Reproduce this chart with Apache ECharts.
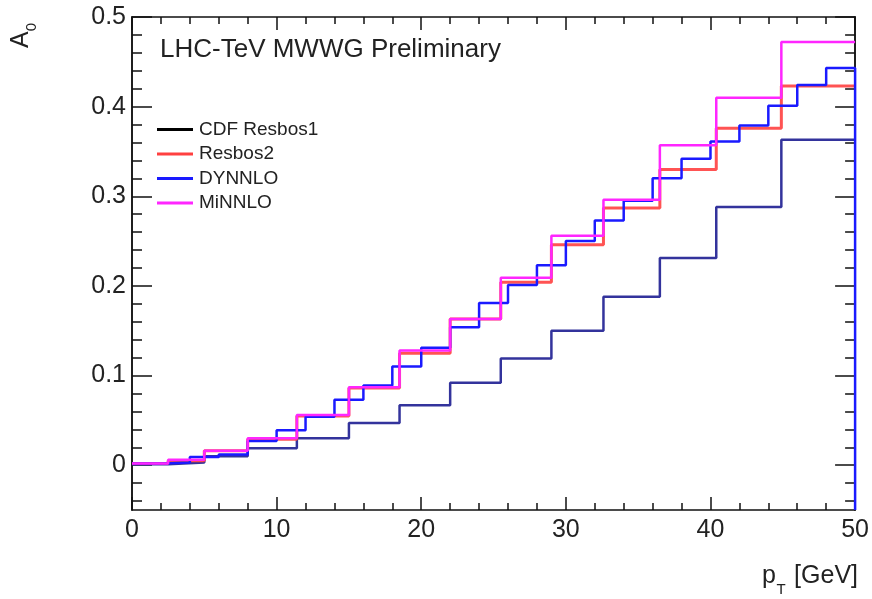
<!DOCTYPE html>
<html>
<head>
<meta charset="utf-8">
<script src="https://cdn.jsdelivr.net/npm/echarts@6/dist/echarts.min.js"></script>
<style>
html,body{margin:0;padding:0;background:#fff;}
#chart{width:872px;height:599px;}
</style>
</head>
<body>
<div id="chart"></div>
<script>
// ---- data ----
const seriesNames = ['CDF Resbos1', 'Resbos2', 'DYNNLO', 'MiNNLO'];
const edgesCoarse = [0, 2.5, 5, 8, 11.4, 15, 18.5, 22, 25.5, 29, 32.6, 36.5, 40.4, 44.9, 50];
const edgesFine = [0, 2, 4, 6, 8, 10, 12, 14, 16, 18, 20, 22, 24, 26, 28, 30, 32, 34, 36, 38, 40, 42, 44, 46, 48, 50];
const resbos1 = [0.001, 0.003, 0.010, 0.019, 0.030, 0.047, 0.067, 0.092, 0.119, 0.150, 0.188, 0.231, 0.288, 0.363];
const resbos2 = [0.002, 0.005, 0.016, 0.029, 0.055, 0.086, 0.125, 0.163, 0.204, 0.246, 0.287, 0.330, 0.376, 0.423];
const minnlo  = [0.002, 0.006, 0.016, 0.030, 0.056, 0.087, 0.128, 0.163, 0.209, 0.256, 0.296, 0.357, 0.410, 0.472];
const dynnlo  = [0.002, 0.003, 0.009, 0.012, 0.027, 0.039, 0.054, 0.073, 0.089, 0.110, 0.131, 0.154, 0.181,
                 0.201, 0.223, 0.250, 0.273, 0.295, 0.320, 0.342, 0.361, 0.379, 0.401, 0.424, 0.443];
const xMin = 0, xMax = 50, xInterval = 10;
const yMin = -0.05, yMax = 0.5;
const yMajorTicks = [0, 0.1, 0.2, 0.3, 0.4, 0.5];
const yMinorTicks = [-0.04, -0.02, 0.02, 0.04, 0.06, 0.08, 0.12, 0.14, 0.16, 0.18, 0.22, 0.24, 0.26, 0.28,
                     0.32, 0.34, 0.36, 0.38, 0.42, 0.44, 0.46, 0.48];
const titleText = 'LHC-TeV MWWG Preliminary';

// ---- helpers ----
function histPoints(edges, values) {
  const pts = values.map((v, i) => [edges[i], v]);
  pts.push([edges[edges.length - 1], values[values.length - 1]]);
  return pts;
}
const dynPts = histPoints(edgesFine, dynnlo);
dynPts.push([edgesFine[edgesFine.length - 1], yMin]); // outline closes down to frame

const FONT = '"Liberation Sans", Arial, Helvetica, sans-serif';
const frameColor = '#111';

function yAx(pos, ticks, len, labels) {
  return {
    type: 'value', position: pos, min: yMin, max: yMax,
    axisLine: { show: true, onZero: false, lineStyle: { color: frameColor, width: 1.5 } },
    axisTick: { show: true, inside: true, length: len, customValues: ticks, lineStyle: { color: frameColor, width: 1.5 } },
    axisLabel: labels ? {
      show: true, customValues: ticks, margin: 6, fontSize: 25, fontFamily: FONT, color: '#222',
      formatter: v => (Math.abs(v) < 1e-9 ? '0' : v.toFixed(1))
    } : { show: false },
    splitLine: { show: false }
  };
}
function xAx(pos, labels) {
  return {
    type: 'value', position: pos, min: xMin, max: xMax, interval: xInterval,
    axisLine: { show: true, onZero: false, lineStyle: { color: frameColor, width: 1.5 } },
    axisTick: { show: true, inside: true, length: 13, lineStyle: { color: frameColor, width: 1.5 } },
    minorTick: { show: true, splitNumber: 5, length: 7, lineStyle: { color: frameColor, width: 1.5 } },
    axisLabel: labels ? { show: true, margin: 8, fontSize: 25, fontFamily: FONT, color: '#222' } : { show: false },
    splitLine: { show: false }, minorSplitLine: { show: false }
  };
}

const colors = { res1: '#33339c', res2: '#ff4040', dyn: '#1a1aff', min: '#ff26ff' };

// axis carrying only the rotated y title "A0"
const yTitleAxis = {
  type: 'value', position: 'left', offset: 93, min: yMin, max: yMax,
  axisLine: { show: false, onZero: false }, axisTick: { show: false }, axisLabel: { show: false }, splitLine: { show: false },
  name: '{a|A}{b|0}', nameLocation: 'end', nameRotate: 90, nameGap: -31,
  nameTextStyle: {
    align: 'left', verticalAlign: 'bottom', color: '#222',
    rich: {
      a: { fontSize: 25, fontFamily: FONT, color: '#222', lineHeight: 26, verticalAlign: 'middle' },
      b: { fontSize: 15, fontFamily: FONT, color: '#222', lineHeight: 36, verticalAlign: 'bottom' }
    }
  }
};

const chart = echarts.init(document.getElementById('chart'), null, { renderer: 'canvas' });
chart.setOption({
  animation: false,
  backgroundColor: '#fff',
  grid: { left: 132, top: 17, width: 726, height: 493, containLabel: false },
  xAxis: [xAx('bottom', true), xAx('top', false)],
  yAxis: [
    yAx('left', yMajorTicks, 20, true),
    yAx('left', yMinorTicks, 10, false),
    yAx('right', yMajorTicks, 20, false),
    yAx('right', yMinorTicks, 10, false),
    yTitleAxis
  ],
  legend: {
    orient: 'vertical', left: 157, top: 120, padding: 0, itemWidth: 36, itemHeight: 3, itemGap: 5.5,
    icon: 'rect',
    textStyle: { fontSize: 19, fontFamily: FONT, color: '#222', lineHeight: 19, padding: [0, 0, 0, 1] },
    data: [
      { name: seriesNames[0], itemStyle: { color: '#000' } },
      { name: seriesNames[1], itemStyle: { color: colors.res2 } },
      { name: seriesNames[2], itemStyle: { color: colors.dyn } },
      { name: seriesNames[3], itemStyle: { color: colors.min } }
    ],
    selectedMode: false
  },
  series: [
    { name: seriesNames[0], type: 'line', step: 'end', symbol: 'none', data: histPoints(edgesCoarse, resbos1),
      lineStyle: { color: colors.res1, width: 2.5 }, itemStyle: { color: colors.res1 }, z: 2 },
    { name: seriesNames[1], type: 'line', step: 'end', symbol: 'none', data: histPoints(edgesCoarse, resbos2),
      lineStyle: { color: colors.res2, width: 3, opacity: 0.9 }, itemStyle: { color: colors.res2 }, z: 3 },
    { name: seriesNames[2], type: 'line', step: 'end', symbol: 'none', data: dynPts,
      lineStyle: { color: colors.dyn, width: 2.5 }, itemStyle: { color: colors.dyn }, z: 4 },
    { name: seriesNames[3], type: 'line', step: 'end', symbol: 'none', data: histPoints(edgesCoarse, minnlo),
      lineStyle: { color: colors.min, width: 2.5 }, itemStyle: { color: colors.min }, z: 5 }
  ],
  graphic: [
    { type: 'text', x: 160, y: 50, style: { text: titleText, font: '26px ' + FONT, fill: '#222', verticalAlign: 'middle', align: 'left' } },
    { type: 'text', x: 858, y: 576, style: { text: '[GeV]', font: '25px ' + FONT, fill: '#222', align: 'right', verticalAlign: 'middle' } },
    { type: 'text', x: 769, y: 576, style: { text: 'p', font: '25px ' + FONT, fill: '#222', align: 'center', verticalAlign: 'middle' } },
    { type: 'text', x: 781, y: 590, style: { text: 'T', font: '15px ' + FONT, fill: '#222', align: 'center', verticalAlign: 'middle' } }
  ]
});
</script>
</body>
</html>
